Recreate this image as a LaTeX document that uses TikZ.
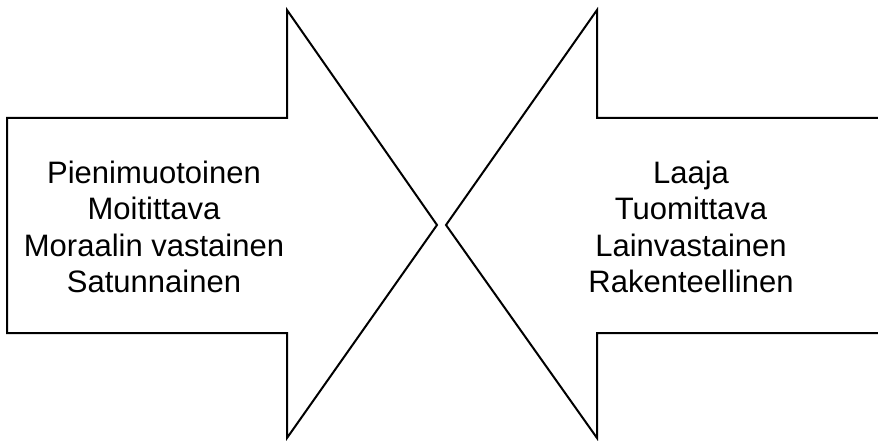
\documentclass[tikz,border=0pt]{standalone}
\usepackage{fontspec}
\setmainfont{Liberation Sans}
\begin{document}
\begin{tikzpicture}[x=1pt,y=-1pt,
  arrowshape/.style={draw=black,line width=2pt,line join=miter},
  label/.style={align=center,font=\fontsize{31}{36.5}\selectfont,inner sep=0pt}]
\useasboundingbox (0,0) rectangle (878,441);
\draw[arrowshape] (7,118) -- (287,118) -- (287,10) -- (437,225) -- (287,438) -- (287,333) -- (7,333) -- cycle;
\draw[arrowshape] (880,118) -- (597,118) -- (597,10) -- (446,225) -- (597,438) -- (597,333) -- (880,333);
\node[label] (lefttext) at (154,227) {Pienimuotoinen\\Moitittava\\Moraalin vastainen\\Satunnainen};
\node[label] (righttext) at (691,227) {Laaja\\Tuomittava\\Lainvastainen\\Rakenteellinen};
\end{tikzpicture}
\end{document}
